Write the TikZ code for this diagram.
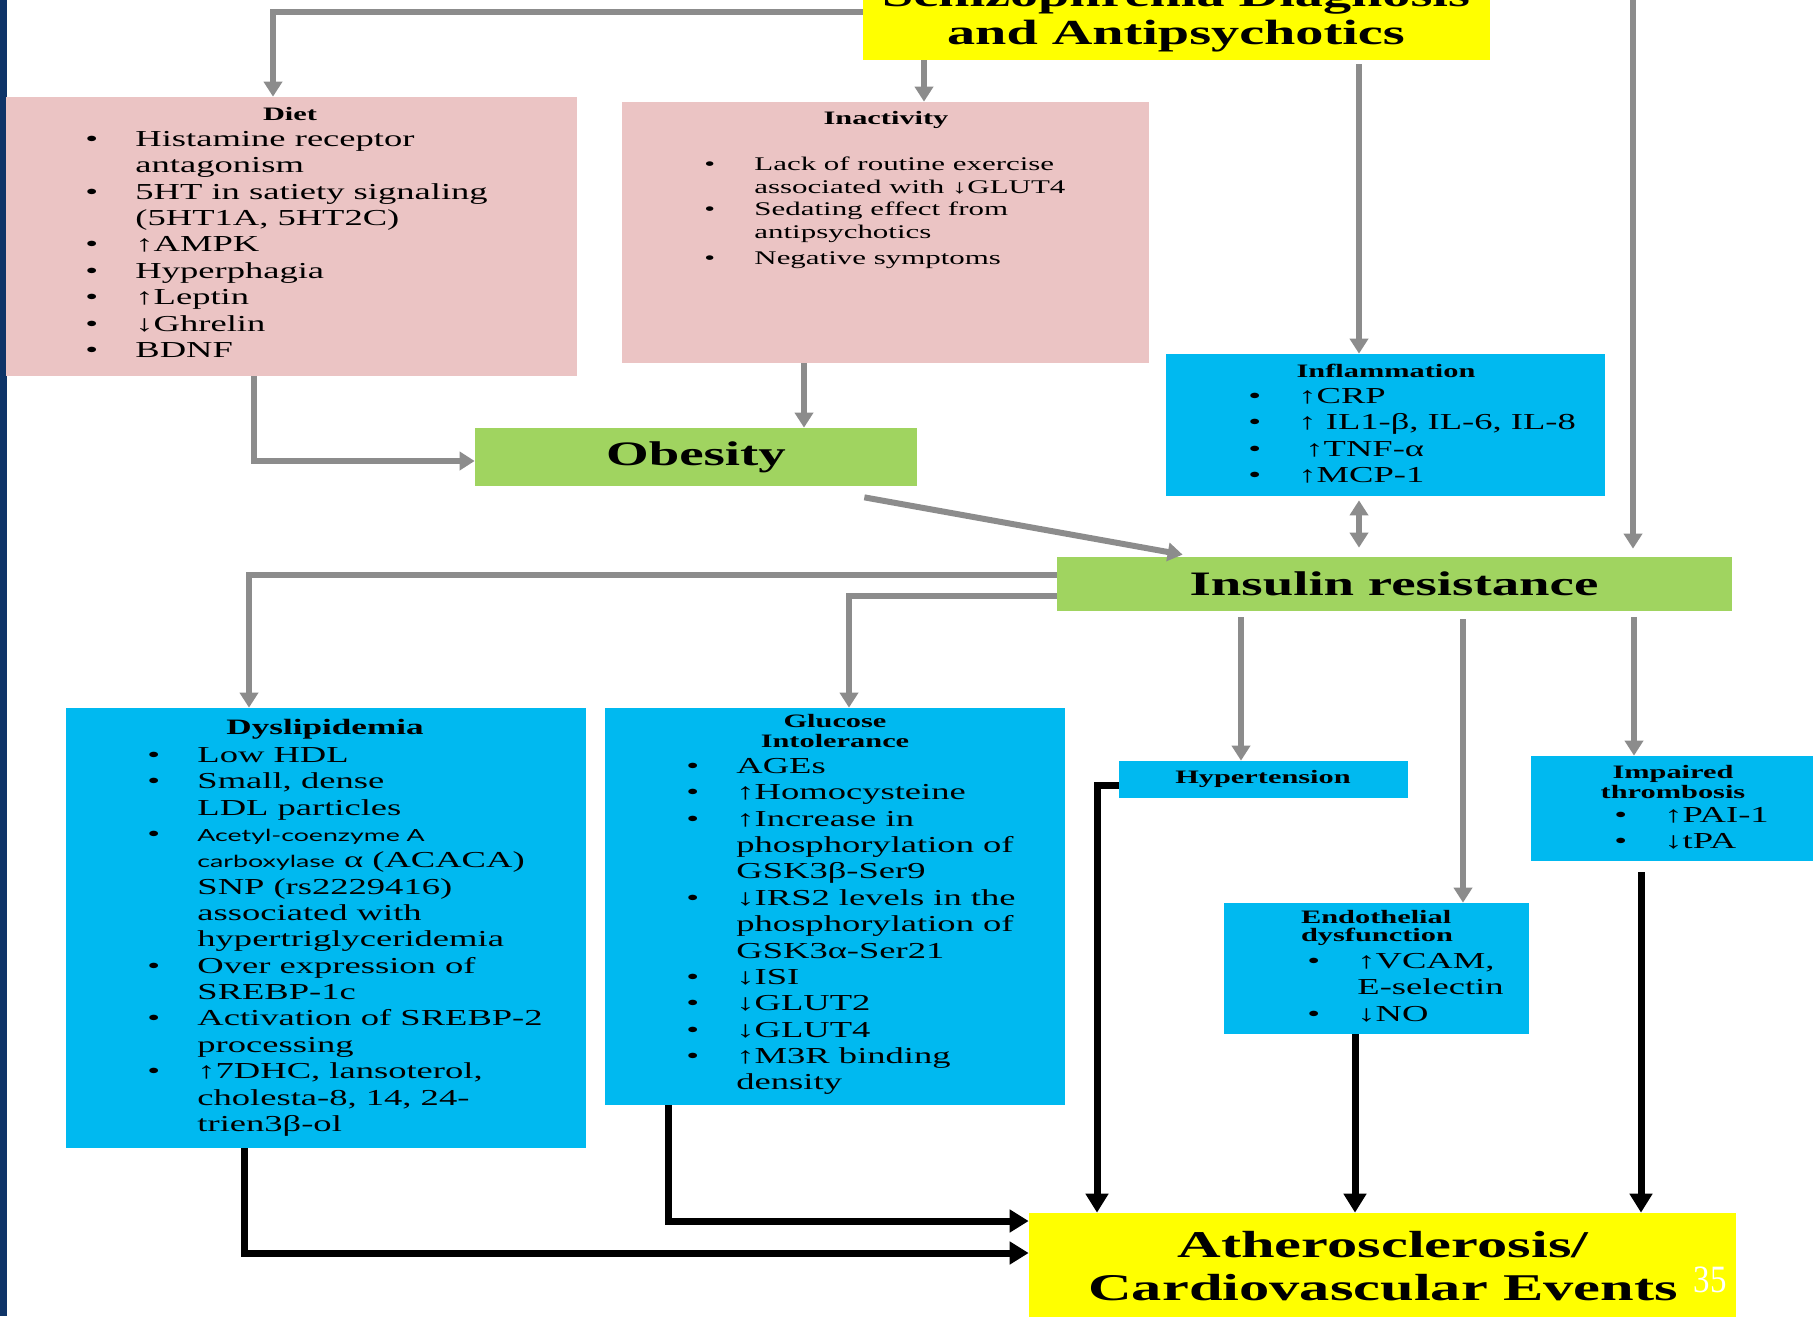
\documentclass[tikz,border=0pt]{standalone}
\usepackage{fontspec}
\setmainfont{Liberation Serif}[FakeStretch=1.6]
\newfontfamily\acefont{Lato}[FakeStretch=1.6]
\newfontfamily\plainfont{Liberation Serif}[FakeStretch=0.85]
\usetikzlibrary{arrows.meta,fit,calc}

\definecolor{navy}{RGB}{14,52,104}
\definecolor{rose}{RGB}{235,196,196}
\definecolor{sky}{RGB}{0,185,240}
\definecolor{leaf}{RGB}{160,212,96}
\definecolor{lemon}{RGB}{255,255,0}
\definecolor{arrgray}{RGB}{140,140,140}

% bullet lists inside the boxes
\newlength{\bgap}\setlength{\bgap}{28.5pt}
\newcommand{\itm}[1]{\makebox[\bgap][l]{\textbullet}#1}
\newcommand{\cnt}[1]{\hspace*{\bgap}#1}

\tikzset{
  box/.style={inner sep=0pt, draw=none},
  pinkbox/.style={box, fill=rose},
  bluebox/.style={box, fill=sky},
  greenbox/.style={box, fill=leaf},
  yellowbox/.style={box, fill=lemon},
  head/.style={font=\fontsize{10.8}{11.3}\selectfont\bfseries, align=center, inner sep=0pt},
  body/.style={font=\fontsize{13}{15}\selectfont, align=left, inner sep=0pt, anchor=north west},
  bigtxt/.style={font=\fontsize{19.5}{22}\selectfont\bfseries, inner sep=0pt},
  grayarr/.style={draw=arrgray, line width=1.2mm, -{Triangle[width=3.6mm,length=3mm]}},
  blackarr/.style={draw=black, line width=1.4mm, -{Triangle[width=4.4mm,length=3.8mm]}},
}

\begin{document}
\begin{tikzpicture}[x=0.2mm, y=-0.2mm]
  \useasboundingbox (0,0) rectangle (1813,1316);
  \clip (0,0) rectangle (1813,1316);
  \fill[white] (0,0) rectangle (1813,1316);
  \fill[navy] (0,0) rectangle (7,1316);

  % Boxes --------------------------------------------------------
  \node[yellowbox, fit={(863,-50) (1490,60)}] (title) {};
  \node[pinkbox, fit={(6,97) (577,376)}] (diet) {};
  \node[pinkbox, fit={(622,102) (1149,363)}] (inac) {};
  \node[bluebox, fit={(1166,354) (1605,496)}] (infl) {};
  \node[greenbox, fit={(475,428) (917,486)}] (obes) {};
  \node[greenbox, fit={(1057,557) (1732,611)}] (ir) {};
  \node[bluebox, fit={(66,708) (586,1148)}] (dys) {};
  \node[bluebox, fit={(605,708) (1065,1105)}] (glu) {};
  \node[bluebox, fit={(1119,761) (1408,798)}] (hyp) {};
  \node[bluebox, fit={(1531,756) (1830,861)}] (thr) {};
  \node[bluebox, fit={(1224,903) (1529,1034)}] (endo) {};
  \node[yellowbox, fit={(1029,1213) (1736,1340)}] (athero) {};

  % Texts --------------------------------------------------------
  \node[font=\fontsize{20}{21.6}\selectfont\bfseries, align=center, inner sep=0pt]
    (titletxt) at (1176,17) {Schizophrenia Diagnosis\\and Antipsychotics};

  \node[head] (diethd) at (290,114) {Diet};
  \node[body] (dietbd) at (85,131) {\itm{Histamine receptor}\\
    \cnt{antagonism}\\
    \itm{5HT in satiety signaling}\\
    \cnt{(5HT1A, 5HT2C)}\\
    \itm{↑AMPK}\\
    \itm{Hyperphagia}\\
    \itm{↑Leptin}\\
    \itm{↓Ghrelin}\\
    \itm{BDNF}};

  \node[head] (inachd) at (886,120) {Inactivity};
  \node[body, font=\fontsize{11}{12.8}\selectfont] (inacbd) at (704,157) {\itm{Lack of routine exercise}\\
    \cnt{associated with ↓GLUT4}\\
    \itm{Sedating effect from}\\
    \cnt{antipsychotics}\\[2pt]
    \itm{Negative symptoms}};

  \node[head] (inflhd) at (1386,371) {Inflammation};
  \node[body] (inflbd) at (1248,388) {\itm{↑CRP}\\
    \itm{↑ IL1-β, IL-6, IL-8}\\
    \itm{\hspace{4pt}↑TNF-α}\\
    \itm{↑MCP-1}};

  \node[bigtxt] (obestxt) at (696,457) {Obesity};
  \node[bigtxt] (irtxt) at (1394,584) {Insulin resistance};

  \node[head, font=\fontsize{12.5}{14}\selectfont\bfseries] (dyshd) at (325,729) {Dyslipidemia};
  \node[body] (dysbd) at (147,747) {\itm{Low HDL}\\
    \itm{Small, dense}\\
    \cnt{LDL particles}\\
    \itm{{\acefont\fontsize{9.5}{15}\selectfont Acetyl-coenzyme A}}\\
    \cnt{{\acefont\fontsize{9.5}{15}\selectfont carboxylase} α (ACACA)}\\
    \cnt{SNP (rs2229416)}\\
    \cnt{associated with}\\
    \cnt{hypertriglyceridemia}\\
    \itm{Over expression of}\\
    \cnt{SREBP-1c}\\
    \itm{Activation of SREBP-2}\\
    \cnt{processing}\\
    \itm{↑7DHC, lansoterol,}\\
    \cnt{cholesta-8, 14, 24-}\\
    \cnt{trien3β-ol}};

  \node[head] (gluhd) at (835,731) {Glucose\\Intolerance};
  \node[body] (glubd) at (686,758) {\itm{AGEs}\\
    \itm{↑Homocysteine}\\
    \itm{↑Increase in}\\
    \cnt{phosphorylation of}\\
    \cnt{GSK3β-Ser9}\\
    \itm{↓IRS2 levels in the}\\
    \cnt{phosphorylation of}\\
    \cnt{GSK3α-Ser21}\\
    \itm{↓ISI}\\
    \itm{↓GLUT2}\\
    \itm{↓GLUT4}\\
    \itm{↑M3R binding}\\
    \cnt{density}};

  \node[head] (hyphd) at (1263,779) {Hypertension};

  \node[head, align=left, font=\fontsize{10.8}{10}\selectfont\bfseries] (endohd) at (1377,928) {Endothelial\\dysfunction};
  \node[body] (endobd) at (1307,953) {\itm{↑VCAM,}\\
    \cnt{E-selectin}\\
    \itm{↓NO}};

  \node[head] (thrhd) at (1673,782) {Impaired\\thrombosis};
  \node[body] (thrbd) at (1614,807) {\itm{↑PAI-1}\\
    \itm{↓tPA}};

  \node[font=\fontsize{21.5}{24.5}\selectfont\bfseries, align=center, inner sep=0pt]
    (atherotxt) at (1383,1266) {Atherosclerosis/\\Cardiovascular Events};
  \node[text=white, font=\plainfont\fontsize{22}{22}\selectfont, inner sep=0pt] (refnum) at (1710,1280) {35};

  % Gray connectors ----------------------------------------------
  \coordinate (rowA) at (0,12);
  \coordinate (colDiet) at (273,0);
  \coordinate (colInac) at (924,0);
  \coordinate (colInfl) at (1359,0);
  \coordinate (topr) at (1633,-20);
  \draw[grayarr] (title.west |- rowA) -| (diet.north -| colDiet);
  \draw[grayarr] (title.south -| colInac) -- (inac.north -| colInac);
  \draw[grayarr] ($(title.south -| colInfl)+(0,4)$) -- (infl.north -| colInfl);
  \draw[grayarr] (topr) -- ($(ir.north -| topr)+(0,-8)$);

  \coordinate (colDietOut) at (254,0);
  \coordinate (colInacOut) at (804,0);
  \draw[grayarr] (diet.south -| colDietOut) |- ($(obes.west)+(0,4)$);
  \draw[grayarr] (inac.south -| colInacOut) -- (obes.north -| colInacOut);
  \draw[grayarr] ($(obes.south east)+(-53,11)$) -- ($(ir.north west)+(126,-2)$);
  \draw[grayarr, {Triangle[width=3.6mm,length=3mm]}-{Triangle[width=3.6mm,length=3mm]}]
    ($(infl.south -| colInfl)+(0,4)$) -- ($(ir.north -| colInfl)+(0,-9)$);

  \coordinate (rowDys) at (0,575);
  \coordinate (rowGlu) at (0,596);
  \coordinate (colDys) at (249,0);
  \coordinate (colGlu) at (849,0);
  \coordinate (colHyp) at (1241,0);
  \coordinate (colEndo) at (1463,0);
  \coordinate (colThr) at (1634,0);
  \draw[grayarr] (ir.west |- rowDys) -| (dys.north -| colDys);
  \draw[grayarr] (ir.west |- rowGlu) -| (glu.north -| colGlu);
  \draw[grayarr] ($(ir.south -| colHyp)+(0,6)$) -- (hyp.north -| colHyp);
  \draw[grayarr] ($(ir.south -| colEndo)+(0,8)$) -- (endo.north -| colEndo);
  \draw[grayarr] ($(ir.south -| colThr)+(0,6)$) -- (thr.north -| colThr);

  % Black connectors ---------------------------------------------
  \coordinate (colHypOut) at (1097,0);
  \coordinate (colEndoOut) at (1355,0);
  \coordinate (colThrOut) at (1641,0);
  \coordinate (colGluOut) at (668,0);
  \coordinate (rowGluOut) at (0,1221);
  \coordinate (colDysOut) at (244,0);
  \coordinate (rowDysOut) at (0,1253);
  \draw[blackarr] ($(hyp.west)+(0,6)$) -| (athero.north -| colHypOut);
  \draw[blackarr] (endo.south -| colEndoOut) -- (athero.north -| colEndoOut);
  \draw[blackarr] ($(thr.south -| colThrOut)+(0,11)$) -- (athero.north -| colThrOut);
  \draw[blackarr] (glu.south -| colGluOut) |- (athero.west |- rowGluOut);
  \draw[blackarr] (dys.south -| colDysOut) |- (athero.west |- rowDysOut);

\end{tikzpicture}
\end{document}
